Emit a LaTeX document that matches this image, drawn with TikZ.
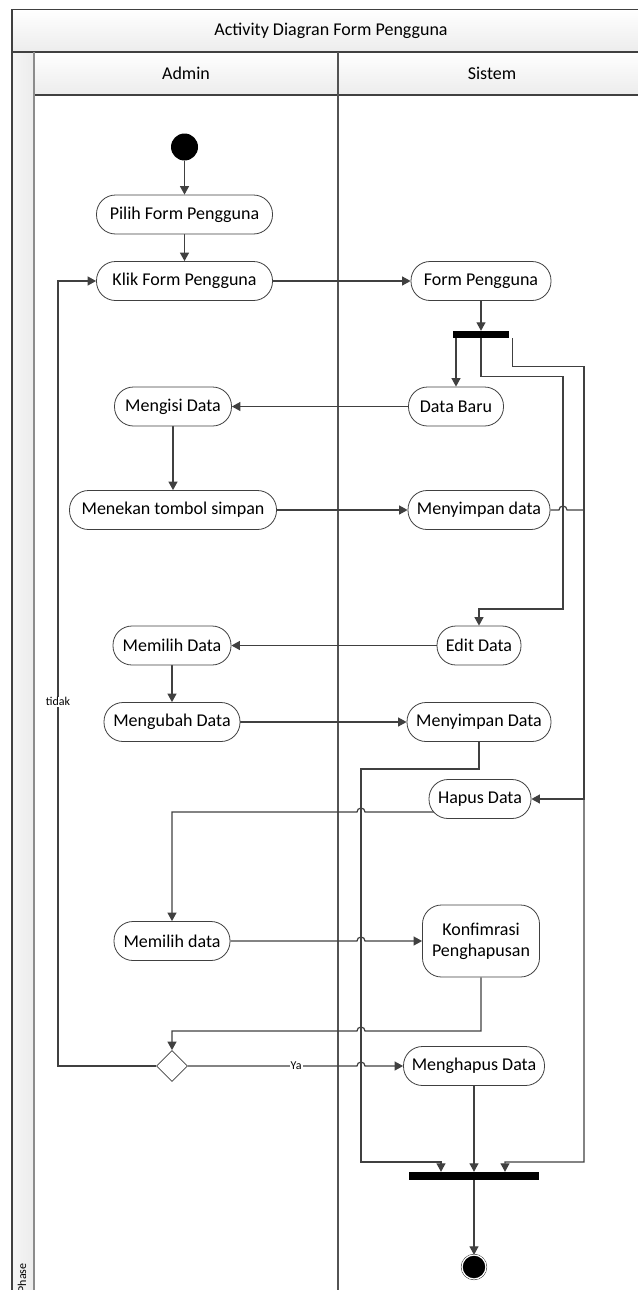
\documentclass[tikz,border=0pt]{standalone}
\usepackage{fontspec}
\setmainfont{Carlito}
\usetikzlibrary{arrows.meta,shapes.geometric,backgrounds}
\definecolor{lineg}{HTML}{404040}
\definecolor{laneg}{HTML}{8C8C8C}
\definecolor{headg}{HTML}{ECECEC}
\tikzset{
  act/.style={draw=lineg, line width=0.8pt, fill=white, rounded corners=19pt,
    minimum height=39pt, inner xsep=4pt, font=\fontsize{18}{21}\selectfont},
  bar/.style={fill=black, minimum height=7pt, inner sep=0pt},
  startnode/.style={circle, fill=black, minimum size=27pt, inner sep=0pt},
  endnode/.style={circle, fill=black, draw=black, double=white, double distance=1.3pt,
    minimum size=24pt, inner sep=0pt},
  choice/.style={diamond, draw=lineg, line width=0.8pt, fill=white, minimum size=31pt, inner sep=0pt},
  flow/.style={draw=lineg, line width=1.2pt, -{Triangle[length=8.5pt,width=9pt]}},
  lbl/.style={fill=white, inner sep=1pt, font=\fontsize{12}{14}\selectfont},
  head/.style={font=\fontsize{18}{21}\selectfont},
}
\begin{document}
\begin{tikzpicture}[x=1pt,y=-1pt]
  \useasboundingbox (0,0) rectangle (637,1290);

  % nodes
  \node[startnode] (start) at (184.5,147) {};
  \node[act, minimum width=176pt] (pilih) at (184.5,214.5) {Pilih Form Pengguna};
  \node[act, minimum width=176pt] (klik) at (184.5,281) {Klik Form Pengguna};
  \node[act, minimum width=140pt] (fp) at (481,281) {Form Pengguna};
  \node[bar, minimum width=56pt] (fork) at (481,334.5) {};
  \node[act, minimum width=95pt] (baru) at (456,406.5) {Data Baru};
  \node[act, minimum width=117pt] (isi) at (173,406.5) {Mengisi Data};
  \node[act, minimum width=207pt] (tekan) at (173,510) {Menekan tombol simpan};
  \node[act, minimum width=142pt] (simpan1) at (479,510) {Menyimpan data};
  \node[act, minimum width=84pt] (edit) at (479,645.5) {Edit Data};
  \node[act, minimum width=118pt] (pilihdata) at (172,645.5) {Memilih Data};
  \node[act, minimum width=136pt] (ubah) at (172,722) {Mengubah Data};
  \node[act, minimum width=144pt] (simpan2) at (479,722) {Menyimpan Data};
  \node[act, minimum width=102pt] (hapus) at (480,799) {Hapus Data};
  \node[act, minimum width=116pt] (pilihhapus) at (172,941) {Memilih data};
  \node[act, minimum width=117pt, minimum height=72pt, align=center] (konf) at (481,941) {Konfimrasi\\Penghapusan};
  \node[choice] (dec) at (172,1066) {};
  \node[act, minimum width=141pt] (menghapus) at (474,1066) {Menghapus Data};
  \node[bar, minimum width=130pt, minimum height=8pt] (join) at (474,1176) {};
  \node[endnode] (end) at (474,1267) {};

  \begin{scope}[on background layer]
    % swimlane frame
    \shade[top color=white, bottom color=headg] (12,9.5) rectangle (650,52);
    \shade[left color=white!96!black, right color=headg] (12,52) rectangle (34,1300);
    \shade[top color=white, bottom color=headg] (34,52) rectangle (650,95);
    \draw[lineg, line width=1.2pt] (650,9.5) -- (12,9.5) -- (12,1300);
    \draw[lineg, line width=1.2pt] (12,52) -- (650,52);
    \draw[lineg, line width=1.2pt] (34,95) -- (650,95);
    \draw[laneg, line width=2pt] (34,52) -- (34,1300);
    \draw[lineg!90, line width=2pt] (337.5,52) -- (337.5,1300);
    \node[head] (judul) at (331,30.5) {Activity Diagran Form Pengguna};
    \node[head] (admin) at (186,73.5) {Admin};
    \node[head] (sistem) at (492,73.5) {Sistem};
    \node[rotate=90, font=\fontsize{12}{14}\selectfont] (phase) at (22,1278) {Phase};

    % connectors
    \draw[flow] (start) -- (pilih);
    \draw[flow] (pilih) -- (klik);
    \draw[flow] (klik) -- (fp);
    \draw[flow] (fp) -- (fork);
    \draw[flow] (fork.south west -| baru.north) -- (baru.north);
    \draw[flow] (fork.south) -- ++(0,38) -| (563,609) -| (edit.north);
    \draw[flow] ([xshift=3pt]fork.south east) -- ++(0,28) -| (584,799) -- (hapus.east);
    \draw[flow] (baru) -- (isi);
    \draw[flow] (isi) -- (tekan);
    \draw[flow] (tekan) -- (simpan1);
    \draw[flow] (simpan1.east) -- (559,510) arc[start angle=180,end angle=360,radius=4]
      -- (584,510) -- (584,1162) -| ([xshift=31pt]join.north);
    \draw[flow] (edit) -- (pilihdata);
    \draw[flow] (pilihdata) -- (ubah);
    \draw[flow] (ubah) -- (simpan2);
    \draw[flow] (simpan2.south) |- (361,769) -- (361,1162) -| ([xshift=-33pt]join.north);
    \draw[flow] (hapus.center) ++(0,13) -- (365,812) arc[start angle=0,end angle=-180,radius=4]
      -| (pilihhapus.north);
    \draw[flow] (pilihhapus.east) -- (357,941) arc[start angle=180,end angle=360,radius=4]
      -- (konf.west);
    \draw[flow] (konf.south) |- (365,1031) arc[start angle=0,end angle=-180,radius=4]
      -| (dec.north);
    \draw[flow] (dec.east) -- node[lbl,pos=0.64]{Ya} (357,1066)
      arc[start angle=180,end angle=360,radius=4] -- (menghapus.west);
    \draw[flow] (dec.west) -- (58,1066) -- node[lbl,pos=0.464]{tidak} (58,281) -- (klik.west);
    \draw[flow] (menghapus) -- (join);
    \draw[flow] (join) -- (end);
  \end{scope}
\end{tikzpicture}
\end{document}
